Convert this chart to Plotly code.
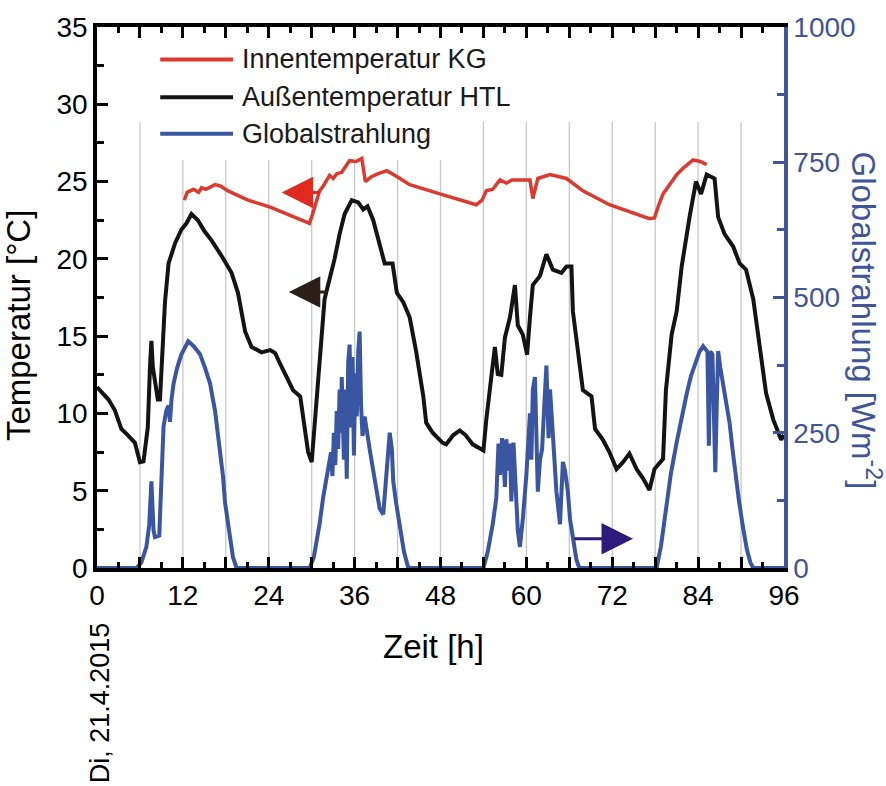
import plotly.graph_objects as go

# ---------------- data ----------------
series_names = ["Innentemperatur KG", "Außentemperatur HTL", "Globalstrahlung"]

# Außentemperatur HTL [°C]
out_h = [0, 1.0, 1.6, 2.5, 3.4, 4.3, 5.3, 5.8, 6.0, 6.5, 7.1, 7.4, 7.6, 7.8, 8.0, 8.5, 8.8, 9.1, 9.5, 10.0,
         10.9, 11.8, 12.5, 13.2, 14.1, 15.0, 16.0, 17.4, 18.8, 19.7, 20.7, 21.6, 23.0, 24.2, 24.9, 25.6, 26.5,
         27.4, 28.4, 28.8, 29.5, 30.0, 30.4, 31.1, 31.8, 32.5, 33.2, 33.9, 34.6, 35.6, 36.5, 37.2, 37.8, 38.6,
         39.5, 40.2, 41.3, 41.9, 42.8, 43.7, 44.6, 45.6, 46.0, 46.9, 48.3, 48.8, 49.8, 50.7, 51.5, 52.5, 54.0,
         54.4, 55.1, 55.6, 56.0, 56.5, 57.0, 57.7, 58.4, 58.8, 59.5, 60.1, 60.5, 60.9, 61.9, 62.8, 63.7, 64.9,
         65.6, 66.3, 66.5, 67.2, 67.9, 69.1, 69.6, 70.7, 71.6, 72.6, 73.5, 74.4, 75.4, 76.3, 77.2, 77.9, 79.1,
         79.5, 80.3, 81.0, 81.7, 82.8, 83.7, 84.4, 85.2, 86.3, 86.8, 87.7, 88.9, 89.8, 90.7, 91.7, 92.8, 93.5,
         94.5, 95.6, 96]
out_t = [11.7, 11.2, 10.9, 10.2, 9.0, 8.6, 8.1, 7.2, 6.85, 6.9, 9.1, 13.0, 14.7, 13.0, 12.4, 10.9, 10.9, 13.5,
         17.2, 19.7, 21.0, 21.9, 22.3, 22.9, 22.5, 21.8, 21.2, 20.2, 19.1, 17.8, 15.3, 14.3, 13.95, 14.1, 13.9,
         13.2, 12.3, 11.5, 11.1, 9.6, 7.5, 6.85, 9.2, 12.6, 17.4, 18.7, 20.0, 21.6, 22.9, 23.8, 23.65, 23.2, 23.4,
         22.5, 21.0, 19.7, 19.7, 17.8, 17.2, 16.2, 14.0, 11.1, 9.4, 8.75, 8.1, 8.0, 8.6, 8.9, 8.6, 8.0, 7.6, 9.6,
         12.35, 14.3, 12.55, 12.5, 14.9, 16.2, 18.3, 15.7, 15.1, 13.8, 16.2, 18.3, 18.9, 20.3, 19.3, 19.1, 19.5,
         19.5, 16.6, 14.0, 11.5, 11.1, 9.0, 8.3, 7.5, 6.4, 6.85, 7.4, 6.4, 5.8, 5.05, 6.4, 7.06, 11.5, 15.1,
         16.6, 19.5, 22.7, 25.0, 24.2, 25.45, 25.2, 22.7, 21.6, 20.8, 19.7, 19.3, 17.4, 13.8, 11.3, 9.6, 8.3, 8.6]

# Innentemperatur KG [°C]
in_h = [12.2, 12.6, 13.5, 14.2, 14.6, 15.2, 16.5, 17.3, 18.3, 21.1, 24.2, 26.5, 29.0, 29.7, 30.4, 31.1, 31.6,
        32.5, 33.0, 33.5, 34.2, 35.3, 36.2, 37.0, 37.5, 38.3, 39.2, 40.5, 42.0, 43.7, 47.9, 53.0, 53.8, 54.4,
        55.3, 56.3, 57.2, 58.0, 59.1, 60.5, 60.9, 61.2, 61.6, 63.3, 65.6, 67.9, 71.6, 77.2, 77.9, 78.5, 79.1,
        81.0, 82.0, 83.3, 84.3, 85.2]
in_t = [23.8, 24.3, 24.5, 24.3, 24.6, 24.5, 24.8, 24.7, 24.4, 23.8, 23.35, 22.9, 22.4, 22.3, 23.3, 24.4, 24.7,
        25.4, 25.2, 25.5, 25.6, 26.35, 26.3, 26.5, 25.0, 25.3, 25.5, 25.7, 25.3, 24.8, 24.2, 23.5, 23.8, 24.4,
        24.5, 25.1, 24.9, 25.1, 25.1, 25.1, 23.9, 24.5, 25.2, 25.45, 25.2, 24.4, 23.5, 22.6, 22.65, 23.5, 24.2,
        25.45, 25.9, 26.4, 26.3, 26.1]

# Globalstrahlung [W/m²]
rad_h = [0, 5.5, 6.2, 6.9, 7.3, 7.6, 7.9, 8.1, 8.7, 9.0, 9.3, 9.7, 10.0, 10.2, 10.4, 10.7, 11.2, 11.8, 12.3,
         12.75, 13.5, 14.4, 15.1, 15.8, 16.5, 17.2, 17.6, 17.9, 18.2, 18.6, 19.0, 19.5,
         29.7, 30.3, 31.1, 31.6, 32.0, 32.4, 32.7, 32.9, 33.1, 33.3, 33.5, 33.7, 33.9, 34.1, 34.2, 34.5, 34.7,
         34.9, 35.1, 35.3, 35.5, 35.7, 35.9, 36.1, 36.3, 36.5, 36.7, 36.9, 37.1, 37.4, 37.6, 38.1, 38.6, 39.1,
         39.5, 40.0, 40.4, 40.9, 41.2, 41.4, 41.8, 42.3, 42.9, 43.5,
         54.0, 54.6, 55.3, 55.8, 56.1, 56.3, 56.6, 56.8, 57.0, 57.2, 57.5, 57.7, 57.9, 58.2, 58.5, 58.8, 59.1,
         59.5, 60.0, 60.3, 60.5, 60.7, 60.9, 61.2, 61.4, 61.6, 61.9, 62.2, 62.5, 62.8, 63.1, 63.3, 63.5, 63.8,
         64.0, 64.2, 64.7, 65.1, 65.4, 65.8, 66.1, 66.5, 67.0, 67.4,
         78.2, 78.8, 79.5, 80.2, 81.0, 81.7, 82.4, 83.0, 83.7, 84.2, 84.7, 85.0, 85.3, 85.5, 85.7, 86.0, 86.2,
         86.4, 86.6, 86.8, 87.1, 87.5, 88.0, 88.4, 88.8, 89.2, 89.7, 90.2, 90.8, 91.3, 91.7, 96]
rad_w = [0, 0, 10, 39, 80, 160, 70, 57, 60, 150, 262, 292, 300, 270, 310, 341, 370, 395, 410,
         419, 410, 395, 370, 341, 290, 220, 170, 120, 90, 51, 20, 0,
         0, 20, 81, 130, 160, 200, 214, 170, 250, 190, 290, 220, 330, 250, 353, 200, 330,
         165, 380, 413, 260, 390, 208, 360, 280, 400, 437, 300, 244, 280, 260, 220, 180, 135,
         110, 99, 160, 250, 220, 160, 120, 81, 30, 0,
         0, 30, 81, 130, 230, 172, 240, 200, 150, 238, 180, 230, 123, 232, 150, 70, 39,
         90, 172, 240, 286, 200, 330, 353, 250, 141, 200, 220, 300, 374, 240, 330, 290, 230,
         180, 141, 81, 196, 180, 141, 90, 51, 15, 0,
         0, 40, 111, 175, 232, 280, 322, 355, 383, 400, 410, 405, 400, 226, 400, 395, 300,
         177, 300, 401, 370, 340, 300, 268, 220, 172, 125, 81, 35, 10, 0, 0]

x_tick_vals = list(range(0, 97, 6))
x_tick_text = [str(v) if v % 12 == 0 else "" for v in x_tick_vals]
grid_hours = list(range(6, 96, 6))

# ---------------- style ----------------
RED = "#DC3A2E"
BLACK = "#141414"
BLUE = "#3A55A2"
AXBLUE = "#3F5499"
FONT = "Liberation Sans, Arial, sans-serif"

fig = go.Figure()
fig.add_trace(go.Scatter(x=out_h, y=out_t, mode="lines", name=series_names[1],
                         line=dict(color=BLACK, width=4), showlegend=False))
fig.add_trace(go.Scatter(x=in_h, y=in_t, mode="lines", name=series_names[0],
                         line=dict(color=RED, width=3.5), showlegend=False))
fig.add_trace(go.Scatter(x=rad_h, y=rad_w, mode="lines", name=series_names[2], yaxis="y2",
                         line=dict(color=BLUE, width=4), showlegend=False))

shapes = []
for h in grid_hours:
    top = 26.4 if 12 <= h <= 48 else 28.85
    shapes.append(dict(type="line", xref="x", yref="y", x0=h, x1=h, y0=0, y1=top,
                       line=dict(color="#C8C8C8", width=1.3), layer="below"))

# custom legend
legend_rows = [0.940, 0.870, 0.8025]
legend_cols = [RED, BLACK, BLUE]
annotations = []
for name, yy, col in zip(series_names, legend_rows, legend_cols):
    shapes.append(dict(type="line", xref="paper", yref="paper", x0=0.092, x1=0.198, y0=yy, y1=yy,
                       line=dict(color=col, width=4)))
    annotations.append(dict(xref="paper", yref="paper", x=0.2085, y=yy, text=name, showarrow=False,
                            xanchor="left", yanchor="middle", font=dict(size=27, color="#1a1a1a", family=FONT)))

# arrows
annotations += [
    dict(x=25.8, y=24.3, ax=31.4, ay=24.3, xref="x", yref="y", axref="x", ayref="y", text="",
         showarrow=True, arrowhead=2, arrowsize=2.1, arrowwidth=3, arrowcolor="#E02A20"),
    dict(x=26.8, y=17.85, ax=32.3, ay=17.85, xref="x", yref="y", axref="x", ayref="y", text="",
         showarrow=True, arrowhead=2, arrowsize=2.1, arrowwidth=3, arrowcolor="#2A2019"),
    dict(x=74.9, y=54, ax=66.5, ay=54, xref="x", yref="y2", axref="x", ayref="y2", text="",
         showarrow=True, arrowhead=2, arrowsize=2.1, arrowwidth=3, arrowcolor="#2E1A7A"),
]

# axis titles and date
annotations += [
    dict(xref="paper", yref="paper", x=-0.115, y=0.449, text="Temperatur [°C]", textangle=-90,
         showarrow=False, xanchor="center", yanchor="middle", font=dict(size=33, color="black", family=FONT)),
    dict(xref="paper", yref="paper", x=1.119, y=0.458, text="Globalstrahlung [Wm<sup>-2</sup>]", textangle=90,
         showarrow=False, xanchor="center", yanchor="middle", font=dict(size=33, color=AXBLUE, family=FONT)),
    dict(xref="paper", yref="paper", x=0.49, y=-0.145, text="Zeit [h]",
         showarrow=False, xanchor="center", yanchor="middle", font=dict(size=33, color="black", family=FONT)),
    dict(xref="paper", yref="paper", x=0.0044, y=-0.25, text="Di, 21.4.2015", textangle=-90,
         showarrow=False, xanchor="center", yanchor="middle", font=dict(size=27, color="black", family=FONT)),
]

fig.update_layout(
    width=886, height=786,
    margin=dict(l=97, r=102, t=16, b=218, pad=0),
    paper_bgcolor="white", plot_bgcolor="white",
    font=dict(family=FONT, size=28, color="black"),
    shapes=shapes, annotations=annotations,
    xaxis=dict(range=[0, 96], tickmode="array", tickvals=x_tick_vals, ticktext=x_tick_text,
               ticks="inside", ticklen=11, tickwidth=2.5, tickcolor="black",
               minor=dict(ticks="inside", dtick=3, tick0=0, ticklen=6, tickwidth=2.5, tickcolor="black"),
               showline=True, linewidth=3.5, linecolor="black", mirror="ticks",
               showgrid=False, zeroline=False, tickfont=dict(size=28, color="black")),
    yaxis=dict(range=[0, 35], dtick=5, ticks="inside", ticklen=11, tickwidth=2.5, tickcolor="black",
               minor=dict(ticks="inside", dtick=2.5, ticklen=7, tickwidth=2.5, tickcolor="black"),
               showline=True, linewidth=3.5, linecolor="black", showgrid=False, zeroline=False,
               tickfont=dict(size=28, color="black")),
    yaxis2=dict(range=[0, 1000], dtick=250, overlaying="y", side="right",
                ticks="inside", ticklen=11, tickwidth=2.5, tickcolor=AXBLUE,
                minor=dict(ticks="inside", dtick=125, ticklen=7, tickwidth=2.5, tickcolor=AXBLUE),
                showline=True, linewidth=3.5, linecolor=AXBLUE, showgrid=False, zeroline=False,
                tickfont=dict(size=28, color=AXBLUE)),
)

fig.write_html("out.html")
